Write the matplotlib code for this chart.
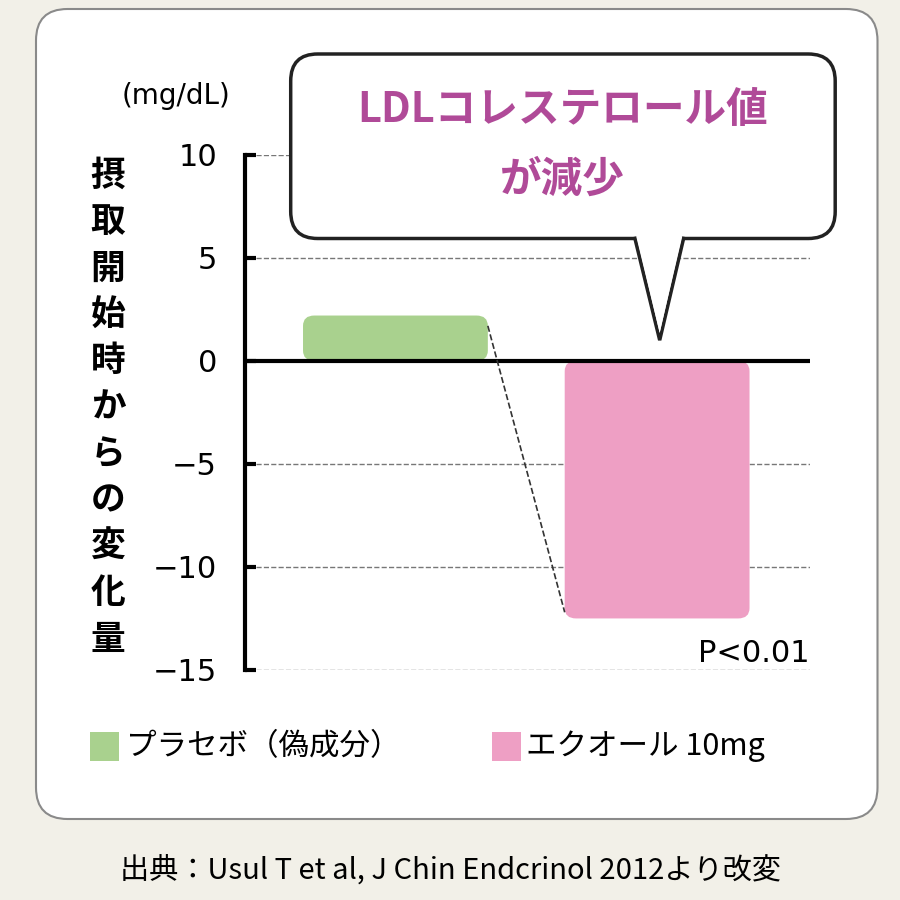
import matplotlib
matplotlib.use("Agg")
import matplotlib.pyplot as plt
from matplotlib.patches import FancyBboxPatch, Polygon
import numpy as np

plt.rcParams['font.family'] = ['Noto Sans CJK JP', 'DejaVu Sans']

categories = ["プラセボ（偽成分）", "エクオール 10mg"]
values = [2.2, -12.5]
colors = ["#a9d18e", "#ee9fc4"]
yticks = [10, 5, 0, -5, -10, -15]
ytick_labels = ["10", "5", "0", "−5", "−10", "−15"]

fig = plt.figure(figsize=(9, 9), dpi=100)
fig.patch.set_facecolor("#f2f0e8")
panel = FancyBboxPatch((0.04, 0.09), 0.935, 0.9, boxstyle="round,pad=0,rounding_size=0.035",
                       transform=fig.transFigure, fc="white", ec="#8a8a8a", lw=1.5, zorder=-5)
fig.add_artist(panel)

ax = fig.add_axes([0.272, 0.2556, 0.628, 0.5724])
ax.set_zorder(1)
ax.set_xlim(0, 1)
ax.set_ylim(-15, 10)
ax.patch.set_alpha(0)
for s in ["top", "right", "bottom"]:
    ax.spines[s].set_visible(False)
ax.spines["left"].set_linewidth(3)
ax.set_yticks(yticks)
ax.set_yticklabels(ytick_labels, fontsize=22, family=['Liberation Sans Narrow', 'DejaVu Sans'])
ax.tick_params(axis='y', direction='in', length=8, width=3, pad=20)
ax.set_xticks([])
for t in yticks:
    if t != 0:
        ax.plot([0.02, 1], [t, t], ls="--", color="#777", lw=1, zorder=1)
ax.axhline(0, color="black", lw=3, zorder=3)

lefts = [0.103, 0.566]
width = 0.327
for l, v, c, lab in zip(lefts, values, colors, categories):
    b = FancyBboxPatch((l, min(0, v)), width, abs(v), boxstyle="round,pad=0,rounding_size=0.02",
                       fc=c, ec="none", zorder=2, mutation_aspect=25)
    ax.add_patch(b)
ax.plot([lefts[0] + width, lefts[1]], [values[0] - 0.5, values[1] + 0.3], ls="--", color="#333", lw=1.2, zorder=4)
ax.text(1.0, -14.9, "P<0.01", ha="right", va="bottom", fontsize=22,
        family=['Liberation Sans Narrow', 'DejaVu Sans'])

fig.text(0.135, 0.885, "(mg/dL)", fontsize=20, family=['Liberation Sans Narrow', 'DejaVu Sans'])
ylab = "摂取開始時からの変化量"
for i, ch in enumerate(ylab):
    fig.text(0.12, 0.805 - i * 0.0515, ch, fontsize=25, fontweight="bold", ha="center", va="center")

# callout
bub = FancyBboxPatch((0.323, 0.735), 0.605, 0.205, boxstyle="round,pad=0,rounding_size=0.03",
                     transform=fig.transFigure, fc="white", ec="#222", lw=2.5, zorder=5)
fig.add_artist(bub)
tail = Polygon([[0.705, 0.737], [0.733, 0.622], [0.76, 0.737]], closed=False,
               transform=fig.transFigure, fc="white", ec="#222", lw=2.5, zorder=6)
fig.add_artist(tail)
fig.add_artist(Polygon([[0.707, 0.739], [0.733, 0.63], [0.758, 0.739]], transform=fig.transFigure,
                       fc="white", ec="none", zorder=7))
fig.text(0.625, 0.878, "LDLコレステロール値", fontsize=30, fontweight="bold", color="#b04a98",
         ha="center", va="center", zorder=8)
fig.text(0.625, 0.8, "が減少", fontsize=30, fontweight="bold", color="#b04a98",
         ha="center", va="center", zorder=8)

# legend
fig.add_artist(plt.Rectangle((0.1, 0.155), 0.032, 0.032, transform=fig.transFigure, fc=colors[0]))
fig.text(0.14, 0.171, categories[0], fontsize=22, va="center")
fig.add_artist(plt.Rectangle((0.547, 0.155), 0.032, 0.032, transform=fig.transFigure, fc=colors[1]))
fig.text(0.585, 0.171, categories[1], fontsize=22, va="center")

fig.text(0.5, 0.033, "出典：Usul T et al, J Chin Endcrinol 2012より改変", fontsize=21, ha="center", va="center")

fig.savefig("out.png", dpi=100, facecolor=fig.get_facecolor())
